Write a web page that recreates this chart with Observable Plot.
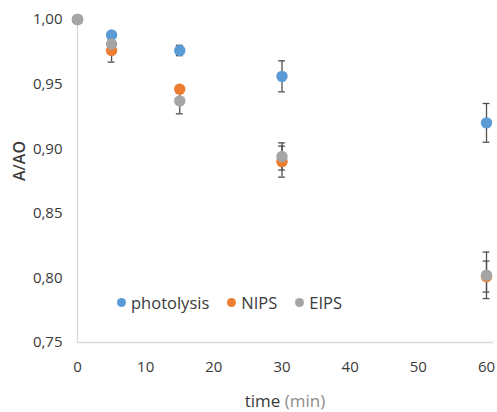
<!DOCTYPE html>
<html>
<head>
<meta charset="utf-8">
<script src="https://cdn.jsdelivr.net/npm/d3@7"></script>
<script src="https://cdn.jsdelivr.net/npm/@observablehq/plot@0.6"></script>
<style>
  html, body { margin: 0; padding: 0; background: #fff; }
  #wrap { position: relative; width: 497px; height: 412px; font-family: "Open Sans", sans-serif; }
  #legend { position: absolute; left: 117px; top: 291px; display: flex; align-items: center; font-size: 16.5px; color: #3a3a3a; }
  #legend .item { display: flex; align-items: center; margin-right: 18px; }
  #legend .sw { width: 9px; height: 9px; border-radius: 50%; margin-right: 5px; }
  #xlabel { position: absolute; left: 77px; width: 416px; top: 390px; text-align: center; font-size: 17px; line-height: 22px; color: #3a3a3a; }
  #xlabel .unit { color: #8c8c8c; }
</style>
</head>
<body>
<div id="wrap">
  <div id="chart"></div>
  <div id="legend"></div>
  <div id="xlabel">time <span class="unit">(min)</span></div>
</div>
<script>
const times = [0, 5, 15, 30, 60];
const seriesNames = ["photolysis", "NIPS", "EIPS"];
const seriesColors = ["#5B9BD5", "#ED7D31", "#A5A5A5"];
const photolysis = [1.000, 0.988, 0.976, 0.956, 0.920];
const photolysisErr = [0.000, 0.002, 0.004, 0.012, 0.015];
const nips = [1.000, 0.976, 0.946, 0.890, 0.801];
const nipsErr = [0.000, 0.009, 0.003, 0.012, 0.012];
const eips = [1.000, 0.981, 0.937, 0.894, 0.802];
const eipsErr = [0.000, 0.004, 0.010, 0.0105, 0.018];
const yTicks = [0.75, 0.80, 0.85, 0.90, 0.95, 1.00];
const xTicks = [0, 10, 20, 30, 40, 50, 60];

const values = [photolysis, nips, eips];
const errs = [photolysisErr, nipsErr, eipsErr];
const data = [];
seriesNames.forEach((s, i) => times.forEach((t, j) => data.push({series: s, t, v: values[i][j], e: errs[i][j]})));
const errData = data.filter(d => d.e > 0);
const capHalf = 0.5;

const fmt = d => d.toFixed(2).replace(".", ",");

const chart = Plot.plot({
  width: 497,
  height: 380,
  marginLeft: 77,
  marginRight: 4,
  marginTop: 19,
  marginBottom: 38,
  style: {fontFamily: "Open Sans, sans-serif", fontSize: "15px", color: "#3a3a3a", background: "white"},
  x: {domain: [0, 60], insetRight: 7, ticks: xTicks, tickSize: 0, tickPadding: 19, label: null},
  y: {domain: [0.75, 1.0], ticks: yTicks, tickSize: 0, tickPadding: 15, tickFormat: fmt, label: null},
  color: {domain: seriesNames, range: seriesColors},
  marks: [
    Plot.ruleY([0.75], {stroke: "#d9d9d9", strokeWidth: 1.3}),
    Plot.ruleX([0], {stroke: "#d9d9d9", strokeWidth: 1.3}),
    Plot.ruleX(errData, {x: "t", y1: d => d.v - d.e, y2: d => d.v + d.e, stroke: "#505050", strokeWidth: 1.3}),
    Plot.ruleY(errData, {y: d => d.v - d.e, x1: d => d.t - capHalf, x2: d => d.t + capHalf, stroke: "#505050", strokeWidth: 1.3}),
    Plot.ruleY(errData, {y: d => d.v + d.e, x1: d => d.t - capHalf, x2: d => d.t + capHalf, stroke: "#505050", strokeWidth: 1.3}),
    Plot.dot(data, {x: "t", y: "v", fill: "series", r: 5.7}),
    Plot.text(["A/AO"], {frameAnchor: "left", rotate: -90, dx: -58, fontSize: 16, fontWeight: 600, fill: "#3a3a3a"})
  ]
});
document.getElementById("chart").appendChild(chart);

const legend = document.getElementById("legend");
seriesNames.forEach((s, i) => {
  const item = document.createElement("div");
  item.className = "item";
  item.innerHTML = `<span class="sw" style="background:${seriesColors[i]}"></span><span>${s}</span>`;
  legend.appendChild(item);
});
</script>
</body>
</html>
